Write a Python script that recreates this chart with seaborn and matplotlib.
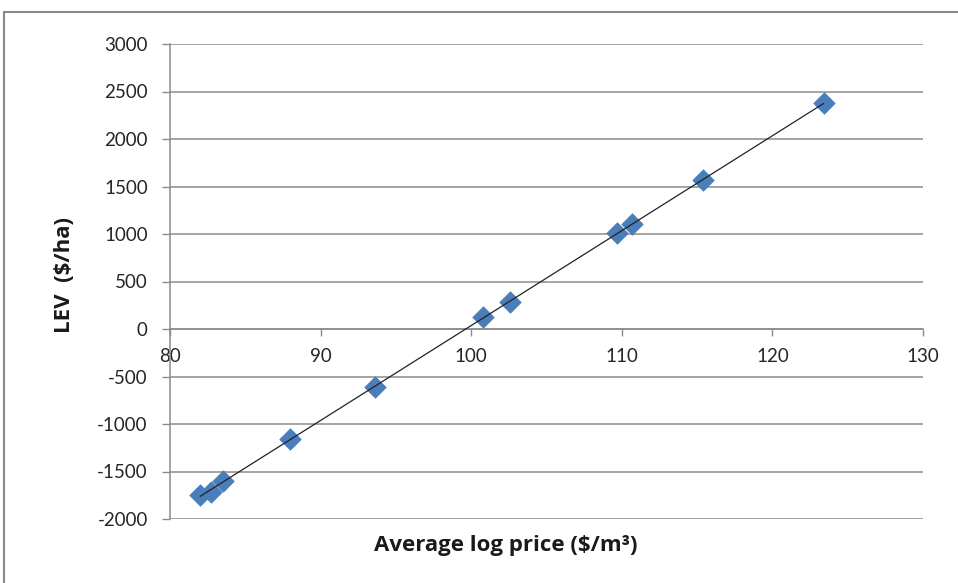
import numpy as np
import pandas as pd
import matplotlib
matplotlib.use("Agg")
import matplotlib.pyplot as plt
import seaborn as sns
from matplotlib.patches import Rectangle

# Data
avg_log_price = [82.0, 82.7, 83.5, 88.0, 93.6, 100.8, 102.6, 109.7, 110.7, 115.4, 123.4]
lev = [-1747, -1716, -1600, -1158, -611, 126, 284, 1011, 1105, 1568, 2379]
x_ticks = [80, 90, 100, 110, 120, 130]
y_ticks = [-2000, -1500, -1000, -500, 0, 500, 1000, 1500, 2000, 2500, 3000]
x_label = "Average log price ($/m³)"
y_label = "LEV  ($/ha)"

df = pd.DataFrame({"price": avg_log_price, "lev": lev})

sns.set_style("white")
plt.rcParams["font.family"] = ["Lato", "DejaVu Sans"]

fig = plt.figure(figsize=(9.58, 5.83), dpi=100)
ax = fig.add_axes([170 / 958, 1 - 519 / 583, (923 - 170) / 958, (519 - 44) / 583])

grid_c = "#8c8c8c"
for yv in y_ticks:
    ax.axhline(yv, color=grid_c, lw=1.1, zorder=0)

sns.scatterplot(data=df, x="price", y="lev", marker="D", s=120,
                color="#4a7ebb", edgecolor="#4a7ebb", linewidth=0.5, ax=ax, zorder=3)
sns.regplot(data=df, x="price", y="lev", scatter=False, ci=None, ax=ax,
            line_kws=dict(color="#222222", lw=0.9, zorder=4))

for s in ["top", "right"]:
    ax.spines[s].set_visible(False)
ax.spines["bottom"].set_position(("data", 0))
ax.spines["bottom"].set_color(grid_c)
ax.spines["bottom"].set_linewidth(1.1)
ax.spines["left"].set_color(grid_c)
ax.spines["left"].set_linewidth(1.1)

ax.set_xlim(80, 130)
ax.set_ylim(-2000, 3000)
ax.set_xticks(x_ticks)
ax.set_yticks(y_ticks)
ax.set_xticklabels([str(v) for v in x_ticks])
ax.set_yticklabels([str(v) for v in y_ticks])
ax.set_xlabel("")
ax.set_ylabel("")

ax.tick_params(axis="x", direction="out", length=5, width=1, color=grid_c, pad=9,
               bottom=True, labelsize=13.5, labelcolor="#262626")
ax.tick_params(axis="y", direction="out", length=6, width=1, color=grid_c, pad=10,
               left=True, labelsize=13.5, labelcolor="#262626")

lab_font = ["Open Sans", "DejaVu Sans"]
fig.text(506 / 958, 1 - 545 / 583, x_label, ha="center", va="center", family=lab_font,
         fontsize=16, fontweight="bold", color="#1a1a1a")
fig.text(65 / 958, 1 - 275 / 583, y_label, ha="center", va="center", rotation=90,
         family=lab_font, fontsize=16, fontweight="bold", color="#1a1a1a")

# outer chart border
fig.patches.append(Rectangle((4 / 958, -0.1), 1.2, 1 - 12 / 583 + 0.1,
                             transform=fig.transFigure, fill=False,
                             edgecolor="#888888", lw=1.5))

fig.savefig("out.png", dpi=100)
